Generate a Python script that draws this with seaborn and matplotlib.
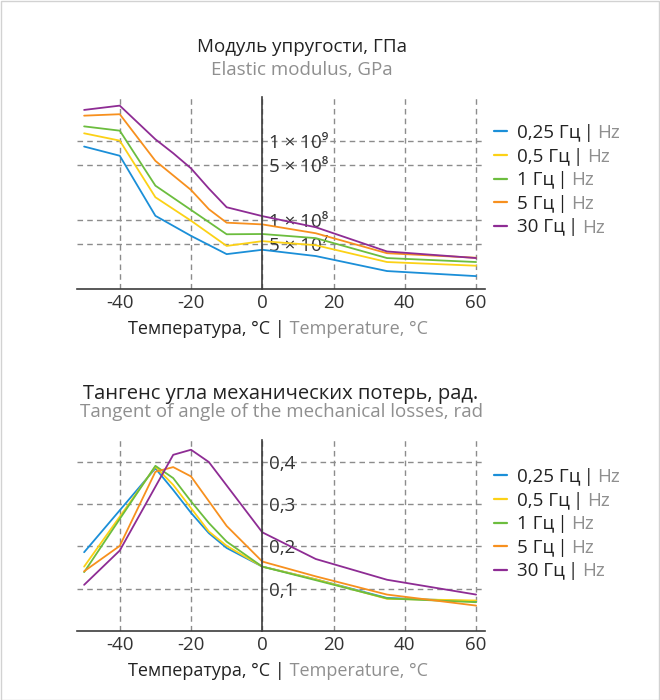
import matplotlib
matplotlib.use("Agg")
import matplotlib.pyplot as plt
import numpy as np
import pandas as pd
import seaborn as sns
from matplotlib.ticker import FixedLocator, FixedFormatter, NullLocator
from matplotlib.lines import Line2D
from matplotlib.patches import Rectangle

# ---------------- data ----------------
freq_labels = ["0,25 Гц", "0,5 Гц", "1 Гц", "5 Гц", "30 Гц"]
freq_unit_en = "Hz"
colors = ["#1b8fd8", "#fcd116", "#6cbd3e", "#f7901e", "#8e2c94"]

# Elastic modulus (log scale)
mod_T_025 = [-50, -40, -30, -20, -10, 0, 15, 35, 60]
mod_E_025 = [8.5e8, 6.5e8, 1.13e8, 6.3e7, 3.7e7, 4.2e7, 3.5e7, 2.26e7, 1.95e7]
mod_T_05 = [-50, -40, -30, -20, -10, 0, 15, 35, 60]
mod_E_05 = [1.25e9, 1.01e9, 1.94e8, 9.8e7, 4.7e7, 5.4e7, 4.8e7, 2.94e7, 2.64e7]
mod_T_1 = [-50, -40, -30, -20, -10, 0, 15, 35, 60]
mod_E_1 = [1.53e9, 1.35e9, 2.72e8, 1.34e8, 6.6e7, 6.65e7, 5.9e7, 3.3e7, 2.94e7]
mod_T_5 = [-50, -40, -30, -20, -15, -10, 0, 15, 35, 60]
mod_E_5 = [2.09e9, 2.18e9, 5.6e8, 2.4e8, 1.37e8, 9.25e7, 8.8e7, 6.8e7, 3.8e7, 3.33e7]
mod_T_30 = [-50, -40, -30, -25, -20, -15, -10, 0, 15, 35, 60]
mod_E_30 = [2.47e9, 2.8e9, 1.05e9, 7.0e8, 4.5e8, 2.5e8, 1.45e8, 1.12e8, 8.1e7, 4.0e7, 3.3e7]

# Loss tangent
tan_T_025 = [-50, -30, -25, -20, -15, -10, 0, 15, 35, 60]
tan_V_025 = [0.186, 0.384, 0.333, 0.279, 0.231, 0.196, 0.152, 0.122, 0.078, 0.070]
tan_T_05 = [-50, -30, -25, -20, -15, -10, 0, 15, 35, 60]
tan_V_05 = [0.152, 0.388, 0.345, 0.290, 0.235, 0.201, 0.152, 0.122, 0.076, 0.072]
tan_T_1 = [-50, -30, -25, -20, -15, -10, 0, 15, 35, 60]
tan_V_1 = [0.139, 0.390, 0.361, 0.306, 0.255, 0.211, 0.152, 0.120, 0.077, 0.068]
tan_T_5 = [-50, -40, -30, -25, -20, -10, 0, 15, 35, 60]
tan_V_5 = [0.141, 0.201, 0.376, 0.387, 0.365, 0.248, 0.164, 0.129, 0.086, 0.060]
tan_T_30 = [-50, -40, -25, -20, -15, 0, 15, 35, 60]
tan_V_30 = [0.109, 0.190, 0.416, 0.428, 0.399, 0.233, 0.170, 0.121, 0.086]

x_ticks = [-40, -20, 0, 20, 40, 60]
x_ticklabels = ["-40", "-20", "0", "20", "40", "60"]
mod_yticks = [5e7, 1e8, 5e8, 1e9]
mod_yticklabels = ["5 × 10⁷", "1 × 10⁸", "5 × 10⁸", "1 × 10⁹"]
tan_yticks = [0.1, 0.2, 0.3, 0.4]
tan_yticklabels = ["0,1", "0,2", "0,3", "0,4"]

title1_ru = "Модуль упругости, ГПа"
title1_en = "Elastic modulus, GPa"
title2_ru = "Тангенс угла механических потерь, рад."
title2_en = "Tangent of angle of the mechanical losses, rad"
xlabel_ru = "Температура, °C |"
xlabel_en = " Temperature, °C"

# ---------------- style ----------------
sns.set_style("white")
plt.rcParams["font.family"] = ["Open Sans", "DejaVu Sans"]
FS = 13.5
FS_TICK = 13.5
DARK = "#222222"
GRAY = "#8f8f8f"

W, H = 660, 700
fig = plt.figure(figsize=(W / 100, H / 100), dpi=100)
fig.add_artist(Rectangle((0.5 / W, 0.5 / H), (W - 1.5) / W, (H - 1.5) / H,
                         transform=fig.transFigure, fill=False, ec="#d2d2d2", lw=1))

ax1 = fig.add_axes([77 / W, 1 - 289 / H, 408 / W, 192 / H])
ax2 = fig.add_axes([77 / W, 1 - 631 / H, 408 / W, 191 / H])


def long_df(Ts, Vs):
    return pd.concat([pd.DataFrame({"T": t, "V": v, "freq": lab})
                      for t, v, lab in zip(Ts, Vs, freq_labels)], ignore_index=True)


df_mod = long_df([mod_T_025, mod_T_05, mod_T_1, mod_T_5, mod_T_30],
                 [mod_E_025, mod_E_05, mod_E_1, mod_E_5, mod_E_30])
df_tan = long_df([tan_T_025, tan_T_05, tan_T_1, tan_T_5, tan_T_30],
                 [tan_V_025, tan_V_05, tan_V_1, tan_V_5, tan_V_30])

ax1.set_yscale("log")
sns.lineplot(data=df_mod, x="T", y="V", hue="freq", hue_order=freq_labels,
             palette=colors, estimator=None, legend=False, lw=1.3, ax=ax1)
sns.lineplot(data=df_tan, x="T", y="V", hue="freq", hue_order=freq_labels,
             palette=colors, estimator=None, legend=False, lw=1.3, ax=ax2)

ax1.set_ylim(1.34e7, 3.6e9)
ax2.set_ylim(0, 0.451)


def style_ax(ax, yticks, ylabels):
    ax.set_xlim(-52, 62.5)
    for s in ["top", "right"]:
        ax.spines[s].set_visible(False)
    ax.spines["left"].set_position(("data", 0))
    for s in ["left", "bottom"]:
        ax.spines[s].set_color("#3c3c3c")
        ax.spines[s].set_linewidth(1.2)
    ax.xaxis.set_major_locator(FixedLocator(x_ticks))
    ax.xaxis.set_major_formatter(FixedFormatter(x_ticklabels))
    ax.yaxis.set_major_locator(FixedLocator(yticks))
    ax.yaxis.set_major_formatter(FixedFormatter(ylabels))
    ax.yaxis.set_minor_locator(NullLocator())
    ax.xaxis.set_minor_locator(NullLocator())
    ax.tick_params(axis="x", direction="in", length=5, width=1, color="#9a9a9a",
                   labelsize=FS_TICK, labelcolor="#333333", pad=3.5)
    ax.tick_params(axis="y", length=0, pad=-4.5, labelsize=FS_TICK, labelcolor="#333333")
    for lab in ax.get_yticklabels():
        lab.set_horizontalalignment("left")
    ax.grid(True, color="#8c8c8c", ls=(0, (4, 3)), lw=1)
    ax.set_xlabel("")
    ax.set_ylabel("")
    ax.patch.set_alpha(0)


style_ax(ax1, mod_yticks, mod_yticklabels)
style_ax(ax2, tan_yticks, tan_yticklabels)

# titles
fig.text(302 / W, 1 - 52.5 / H, title1_ru, ha="center", va="baseline", size=FS, color=DARK)
fig.text(302 / W, 1 - 75 / H, title1_en, ha="center", va="baseline", size=FS, color=GRAY)
fig.text(281 / W, 1 - 399.5 / H, title2_ru, ha="center", va="baseline", size=14.5, color=DARK)
fig.text(281 / W, 1 - 417 / H, title2_en, ha="center", va="baseline", size=FS, color=GRAY)

renderer = fig.canvas.get_renderer()


def two_tone(xc, yb, s1, s2, size):
    t1 = fig.text(0, 1 - yb / H, s1, ha="left", va="baseline", size=size, color=DARK)
    t2 = fig.text(0, 1 - yb / H, s2, ha="left", va="baseline", size=size, color=GRAY)
    w1 = t1.get_window_extent(renderer).width
    w2 = t2.get_window_extent(renderer).width
    left = xc - (w1 + w2) / 2
    t1.set_x(left / W)
    t2.set_x((left + w1) / W)


two_tone(278, 334.5, xlabel_ru, xlabel_en, 13)
two_tone(278, 676, xlabel_ru, xlabel_en, 13)

# legends
handles = [Line2D([], [], color=c, lw=1.6) for c in colors]
legs = []
for ax, top in [(ax1, 124), (ax2, 468)]:
    leg = ax.legend(handles, [l + "\u2009|" for l in freq_labels], loc="upper left",
                    bbox_to_anchor=(494 / W, 1 - top / H), bbox_transform=fig.transFigure,
                    frameon=False, fontsize=FS, handlelength=0.7, handletextpad=0.55,
                    labelspacing=0.3, borderpad=0, borderaxespad=0)
    for t in leg.get_texts():
        t.set_color(DARK)
    legs.append(leg)

fig.canvas.draw()
renderer = fig.canvas.get_renderer()
for leg in legs:
    for t in leg.get_texts():
        x, y = t.get_transform().transform(t.get_position())
        bb = t.get_window_extent(renderer)
        fig.text((bb.x1 + 3) / W, y / H, freq_unit_en, ha="left", va="baseline",
                 size=FS, color=GRAY)

fig.savefig("out.png", dpi=100)
